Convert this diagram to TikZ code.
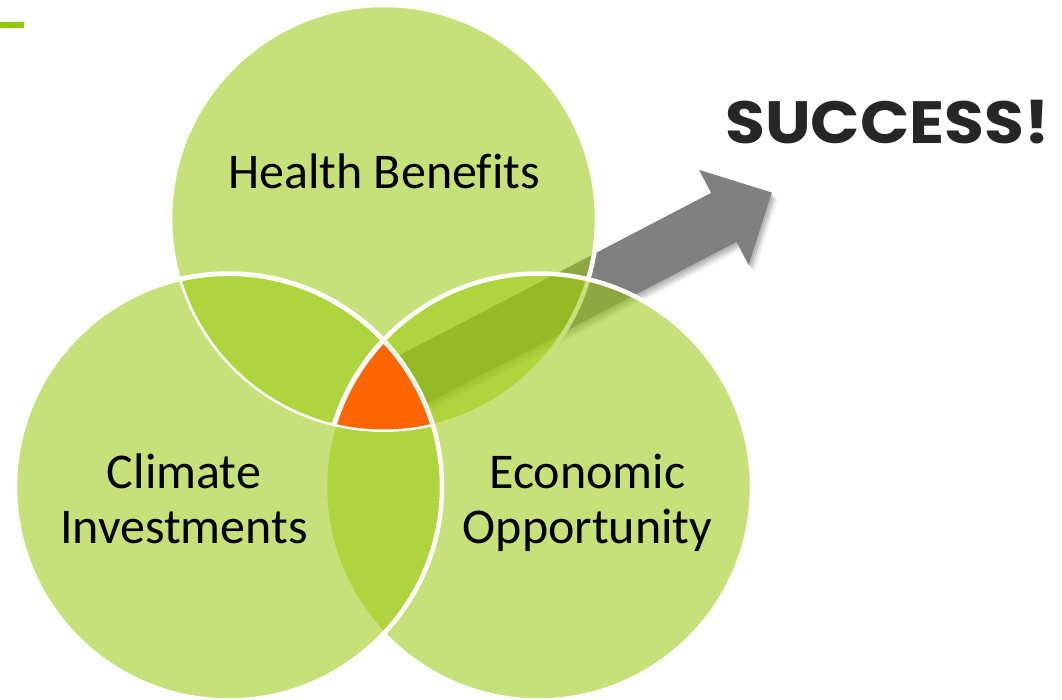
\documentclass[tikz,border=0pt]{standalone}
\usepackage{fontspec}
\setmainfont{Carlito}[Ligatures=NoCommon]
\newfontfamily\succfont{Poppins}
\definecolor{vgreen}{RGB}{154,202,14}
\definecolor{vorange}{RGB}{255,102,0}
\definecolor{arrowgray}{RGB}{128,128,128}
\definecolor{dashgreen}{RGB}{146,200,0}
\definecolor{succ}{RGB}{38,38,38}
\begin{document}
\begin{tikzpicture}[x=1pt,y=-1pt,
  venn/.style={fill=vgreen, fill opacity=0.55, draw=white, draw opacity=1, line width=4.5pt},
  vlabel/.style={font=\fontsize{50}{55}\selectfont, text=black, align=center, inner sep=0pt},
]
\useasboundingbox (0,0) rectangle (1062,700);
\fill[white] (0,0) rectangle (1062,700);
\coordinate (ct) at (383.5,218.5);
\coordinate (cl) at (228.5,487);
\coordinate (cr) at (538.5,487);
% top-left dash
\fill[dashgreen] (0,22) rectangle (24,28);
% arrow shadow
\foreach \dx/\dy/\op in {6/7/0.05, 4.5/5.5/0.07, 3/4/0.09, 1.5/2/0.1} {
  \fill[black, opacity=\op, shift={(\dx,\dy)}] (381.6,364.6) -- (711.1,192.9) -- (699.1,169.9) -- (771.8,192.5) -- (748.6,265) -- (736.6,241.9) -- (407.1,413.6) -- cycle;
}
% arrow
\fill[arrowgray] (381.6,364.6) -- (711.1,192.9) -- (699.1,169.9) -- (771.8,192.5) -- (748.6,265) -- (736.6,241.9) -- (407.1,413.6) -- cycle;
% circles
\path[venn] (ct) circle[radius=213.5pt];
\path[venn] (cr) circle[radius=213.5pt];
\path[venn] (cl) circle[radius=213.5pt];
% centre
\begin{scope}
  \clip (ct) circle[radius=213.5pt];
  \clip (cl) circle[radius=213.5pt];
  \fill[vorange] (cr) circle[radius=213.5pt];
  \draw[white, line width=5pt] (ct) circle[radius=213.5pt] (cl) circle[radius=213.5pt] (cr) circle[radius=213.5pt];
\end{scope}
% labels
\node[vlabel, anchor=base] (hb) at (384,188.3) {Health Benefits};
\node[vlabel, anchor=base] (ci) at (184,543) {Climate\\Investments};
\node[vlabel, anchor=base] (eo) at (587.5,543) {Economic\\Opportunity};
\node[font=\succfont\bfseries\fontsize{59.6}{60}\selectfont, text=succ, anchor=base west, inner sep=0pt] (sx) at (725,143.3) {\scalebox{1.087}[1]{SUCCESS!}};
\end{tikzpicture}
\end{document}
